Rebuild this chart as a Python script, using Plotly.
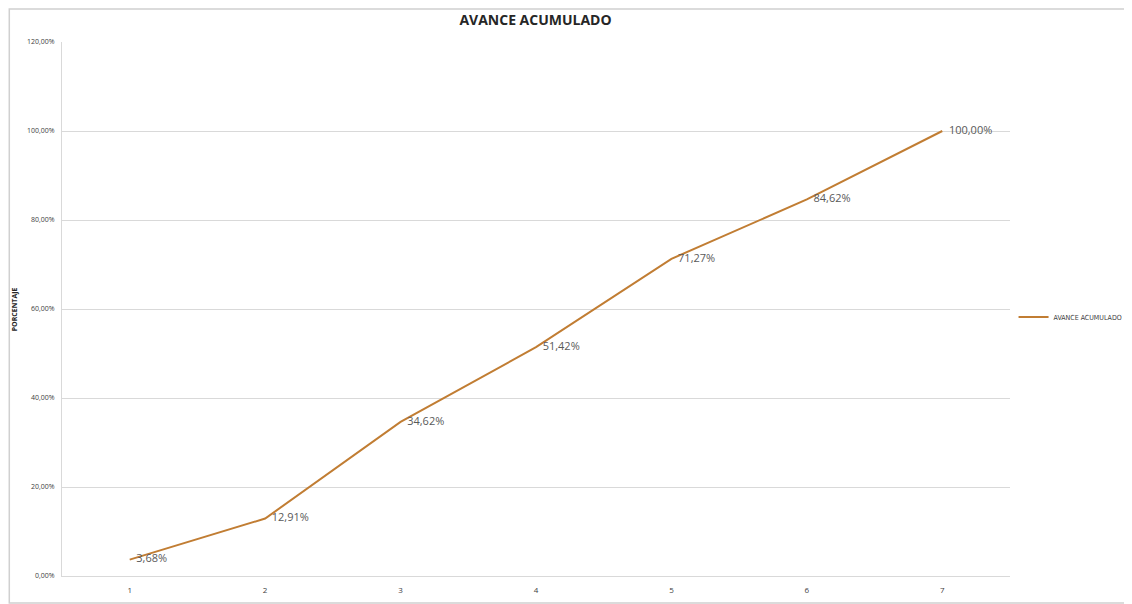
import plotly.graph_objects as go

PERIODOS = [1, 2, 3, 4, 5, 6, 7]
AVANCE = [0.0368, 0.1291, 0.3462, 0.5142, 0.7127, 0.8462, 1.0000]
Y_TICKS = [0, 0.2, 0.4, 0.6, 0.8, 1.0, 1.2]

LINE_COLOR = '#C17D33'
FONT = 'Open Sans, Lato, Liberation Sans, sans-serif'
NARROW = 'Liberation Sans Narrow, DejaVu Sans Condensed, Open Sans, sans-serif'

fig = go.Figure()

fig.add_trace(
    go.Scatter(
        x=PERIODOS,
        y=AVANCE,
        mode='lines+markers+text',
        name='AVANCE ACUMULADO',
        line=dict(color=LINE_COLOR, width=2),
        marker=dict(size=9, color='rgba(0,0,0,0)'),
        texttemplate='%{y:.2%}',
        textposition='middle right',
        textfont=dict(family=FONT, size=11, color='#595959'),
        cliponaxis=False,
    )
)

# marco exterior del grafico
fig.add_shape(
    type='rect', xref='paper', yref='paper',
    x0=-0.0556, x1=1.15, y0=-0.0506, y1=1.0618,
    line=dict(color='#D0D0D0', width=1.5),
)

# titulo del eje Y como anotacion para no mover el margen
fig.add_annotation(
    text='<b>PORCENTAJE</b>',
    xref='paper', yref='paper',
    x=-0.0503, y=0.5, xanchor='center', yanchor='middle',
    textangle=-90, showarrow=False,
    font=dict(size=7, color='#262626'),
)

fig.update_layout(
    width=1132,
    height=604,
    separators=',.',
    plot_bgcolor='white',
    paper_bgcolor='white',
    font=dict(family=FONT, color='#404040'),
    title=dict(
        text='<b>AVANCE ACUMULADO</b>',
        x=0.4995, xref='paper', xanchor='center',
        y=0.980, yanchor='middle',
        font=dict(size=14, color='#262626'),
    ),
    margin=dict(l=54, r=124, t=34, b=36),
    showlegend=True,
    legend=dict(
        x=1.124, xanchor='right', y=0.485, yanchor='middle',
        font=dict(family=NARROW, size=7, color='#404040'),
        itemwidth=30,
    ),
    xaxis=dict(
        range=[0.5, 7.5],
        tickmode='array',
        tickvals=PERIODOS,
        showgrid=False,
        zeroline=False,
        showline=True,
        linecolor='#D9D9D9',
        ticks='',
        ticklabelstandoff=6,
        tickfont=dict(size=8, color='#404040'),
    ),
    yaxis=dict(
        range=[0, 1.2],
        tickmode='array',
        tickvals=Y_TICKS,
        tickformat='.2%',
        showgrid=True,
        gridcolor='#D9D9D9',
        zeroline=False,
        showline=True,
        linecolor='#D9D9D9',
        ticks='',
        ticklabelstandoff=5,
        automargin=False,
        tickfont=dict(size=7, color='#404040'),
    ),
)

fig.write_html('out.html')
